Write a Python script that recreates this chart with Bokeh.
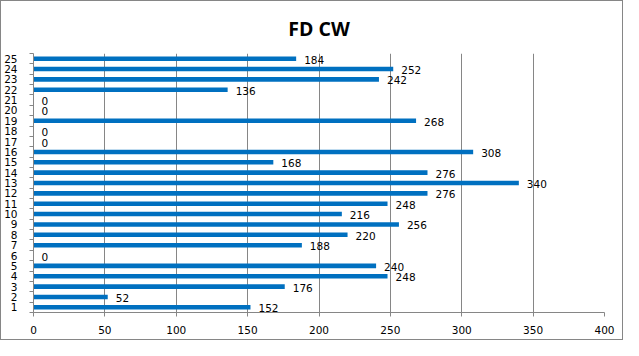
from bokeh.plotting import figure
from bokeh.models import Range1d, FixedTicker, ColumnDataSource
from bokeh.embed import file_html
from bokeh.resources import INLINE
from bokeh.core.properties import value

# ---- data ----
categories = ["1", "2", "3", "4", "5", "6", "7", "8", "9", "10", "11", "12", "13",
              "14", "15", "16", "17", "18", "19", "20", "21", "22", "23", "24", "25"]
values = [152, 52, 176, 248, 240, 0, 188, 220, 256, 216, 248, 276, 340,
          276, 168, 308, 0, 0, 268, 0, 0, 136, 242, 252, 184]
x_ticks = [0, 50, 100, 150, 200, 250, 300, 350, 400]
title_text = "FD CW"

positions = list(range(1, len(categories) + 1))
source = ColumnDataSource(dict(y=positions, v=values, lab=[str(v) for v in values]))

GRID = "#868686"
BAR = "#0070C0"
FONT = "DejaVu Sans"

p = figure(width=623, height=340, output_backend="svg", toolbar_location=None,
           x_range=Range1d(0, 400), y_range=Range1d(0.5, len(categories) + 0.5),
           min_border_left=32, min_border_right=20, min_border_top=51, min_border_bottom=29,
           styles={"border": "1px solid #868686"})
p.outline_line_color = None
p.background_fill_color = "white"
p.border_fill_color = "white"

p.title.text = title_text
p.title.align = "center"
p.title.text_font = "Open Sans"
p.title.text_font_style = "bold"
p.title.text_font_size = "19.5px"
p.title.text_color = "black"
p.title.standoff = 23

p.hbar(y="y", right="v", left=0, height=0.44, source=source,
       fill_color=BAR, line_color=None)
p.text(x="v", y="y", text="lab", source=source, x_offset=8, y_offset=1,
       text_baseline="middle", text_align="left",
       text_font=value(FONT), text_font_size="10.5px", text_color="black")

# x axis
p.xaxis.ticker = FixedTicker(ticks=x_ticks)
p.xaxis.axis_line_color = GRID
p.xaxis.major_tick_line_color = GRID
p.xaxis.major_tick_out = 4
p.xaxis.major_tick_in = 0
p.xaxis.minor_tick_line_color = None
p.xaxis.major_label_standoff = 9
p.xaxis.major_label_text_font = FONT
p.xaxis.major_label_text_font_size = "10.5px"
p.xaxis.major_label_text_color = "black"

# y axis
p.yaxis.ticker = FixedTicker(ticks=positions,
                             minor_ticks=[i + 0.5 for i in range(0, len(categories) + 1)])
p.yaxis.major_label_overrides = {pos: c for pos, c in zip(positions, categories)}
p.yaxis.axis_line_color = GRID
p.yaxis.major_tick_line_color = None
p.yaxis.major_tick_out = 0
p.yaxis.major_tick_in = 0
p.yaxis.minor_tick_line_color = GRID
p.yaxis.minor_tick_out = 4
p.yaxis.minor_tick_in = 0
p.yaxis.major_label_standoff = 12
p.yaxis.major_label_text_font = FONT
p.yaxis.major_label_text_font_size = "10.5px"
p.yaxis.major_label_text_color = "black"

p.xgrid.grid_line_color = GRID
p.xgrid.ticker = FixedTicker(ticks=x_ticks)
p.ygrid.grid_line_color = None

open("out.html", "w").write(file_html(p, INLINE))
